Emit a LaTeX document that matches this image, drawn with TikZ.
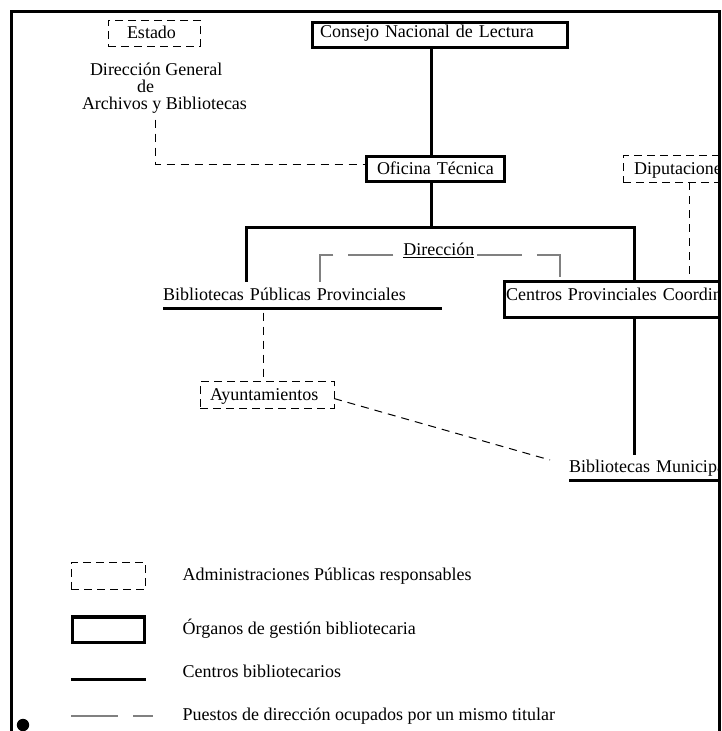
\documentclass[tikz,border=0pt]{standalone}
\usepackage{fontspec}
\setmainfont{Liberation Serif}
\usetikzlibrary{calc}
\begin{document}
\begin{tikzpicture}[x=1pt,y=-1pt,
  every node/.style={outer sep=0pt, inner sep=0pt, font=\fontsize{18}{17.5}\selectfont},
  orgbox/.style={draw, line width=3.2pt, anchor=north west, inner ysep=0pt, align=left},
  admbox/.style={draw, line width=1pt, dash pattern=on 8pt off 5pt, anchor=north west, inner ysep=0pt, align=left},
  lbl/.style={anchor=base west},
  centro/.style={line width=3pt},
  adm/.style={line width=1pt, dash pattern=on 8pt off 6pt},
  dirl/.style={line width=1.5pt, draw=black!50, dash pattern=on 45pt off 15pt},
  legdir/.style={line width=1.5pt, draw=black!50, dash pattern=on 47.3pt off 15pt on 20pt off 100pt}
]
\useasboundingbox (0,0) rectangle (721,731);
\begin{scope}
\clip (0,0) rectangle (717.8,735);
% boxes
\node[admbox, inner xsep=18.7pt, text width=54.3pt, text height=18pt, text depth=8.5pt] (est) at (108.3,20) {\mbox{Estado}};
\node[orgbox, inner xsep=7.7pt, text width=240pt, text height=14.7pt, text depth=10.7pt] (cnl) at (312.3,22.3) {\mbox{Consejo Nacional de Lectura}};
\node[orgbox, inner xsep=10.3pt, text width=117pt, text height=17.3pt, text depth=7.7pt] (ofi) at (366.7,156.7) {\mbox{Oficina Técnica}};
\node[admbox, inner xsep=10.7pt, text width=150pt, text height=18.5pt, text depth=8pt] (dip) at (623.3,155.5) {\mbox{Diputacione}};
\node[orgbox, inner xsep=1.3pt, text width=300pt, text height=18.7pt, text depth=17.3pt] (cpc) at (504.7,281.3) {\mbox{Centros Provinciales Coordin}};
\node[admbox, inner xsep=10pt, text width=114pt, text height=18.3pt, text depth=8.3pt] (ayt) at (200,381.7) {\mbox{Ayuntamientos}};
% texts
\node[lbl] (dg1) at (90,75) {Dirección General};
\node[lbl] (dg2) at (137,92) {de};
\node[lbl] (dg3) at (82,109) {Archivos y Bibliotecas};
\node[lbl, text width=279pt, align=left, text height=18.3pt, text depth=8.3pt] (bpp) at (163,300) {\mbox{Bibliotecas Públicas Provinciales}};
\node[lbl] (dir) at (403.3,255) {Dirección};
\node[lbl, text width=200pt, align=left, text height=17pt, text depth=8.7pt] (bm) at (569,472) {\mbox{Bibliotecas Municipa}};
% connectors: centros / organos
\coordinate (trunk) at (431.5,0);
\coordinate (brL) at (246.7,227.7);
\coordinate (brR) at (634,227.7);
\draw[centro] (cnl.south -| trunk) -- (ofi.north -| trunk);
\draw[centro] (ofi.south -| trunk) -- (trunk |- brL);
\draw[centro] (bpp.north -| brL) -- (brL) -- (brR) -- (cpc.north -| brR);
\draw[centro] (cpc.south -| brR) -- (bm.north -| brR);
\draw[centro] (bpp.south west) -- (bpp.south east);
\draw[centro] (bm.south west) -- (bm.south east);
% Direccion
\draw[line width=1pt] ($(dir.base west)+(0,2.8)$) -- ($(dir.base east)+(0,2.8)$);
\coordinate (dirL) at ($(dir.base west)+(-10,0)$);
\coordinate (dirR) at ($(dir.base east)+(2.5,0)$);
\coordinate (dlx) at (320.2,0);
\coordinate (drx) at (560,0);
\draw[dirl] (dirL) -- (dirL -| dlx) -- (bpp.north -| dlx);
\draw[dirl] (dirR) -- (dirR -| drx) -- (cpc.north -| drx);
% administraciones
\coordinate (dgfoot) at ($(dg3.base west)+(73,10.5)$);
\coordinate (ofiIn) at ($(ofi.north west)+(0,7.3)$);
\draw[adm] (dgfoot) |- (ofiIn);
\coordinate (dpx) at (689.2,0);
\draw[adm] (dip.south -| dpx) -- (cpc.north -| dpx);
\coordinate (bppTap) at ($(bpp.south west)+(100.5,4.4)$);
\draw[adm] (bppTap) -- (bppTap |- ayt.north);
\coordinate (aytOut) at ($(ayt.north east)+(0,16.8)$);
\coordinate (bmIn) at ($(bm.base west)+(-19,-12)$);
\draw[adm] (aytOut) -- (bmIn);
% legend
\node[admbox, minimum width=74.7pt, minimum height=26.5pt] (lgA) at (71,562.7) {};
\node[orgbox, minimum width=71.6pt, minimum height=25.7pt] (lgB) at (72.7,617) {};
\coordinate (lgC1) at (71,679.7);
\coordinate (lgC2) at (145.7,679.7);
\draw[centro] (lgC1) -- (lgC2);
\coordinate (lgD1) at (71,715.8);
\coordinate (lgD2) at (153.3,715.8);
\draw[legdir] (lgD1) -- (lgD2);
\node[lbl] (tA) at (182.7,580) {Administraciones Públicas responsables};
\node[lbl] (tB) at (182.7,634) {Órganos de gestión bibliotecaria};
\node[lbl] (tC) at (182.7,677.5) {Centros bibliotecarios};
\node[lbl] (tD) at (182.7,720.5) {Puestos de dirección ocupados por un mismo titular};
\node[circle, fill=black, minimum size=12.4pt] (bullet) at (23,725) {};
\end{scope}
% frame
\draw[line width=3.3pt] (11.5,745) -- (11.5,11.5) -- (719.5,11.5) -- (719.5,745);
\end{tikzpicture}
\end{document}
